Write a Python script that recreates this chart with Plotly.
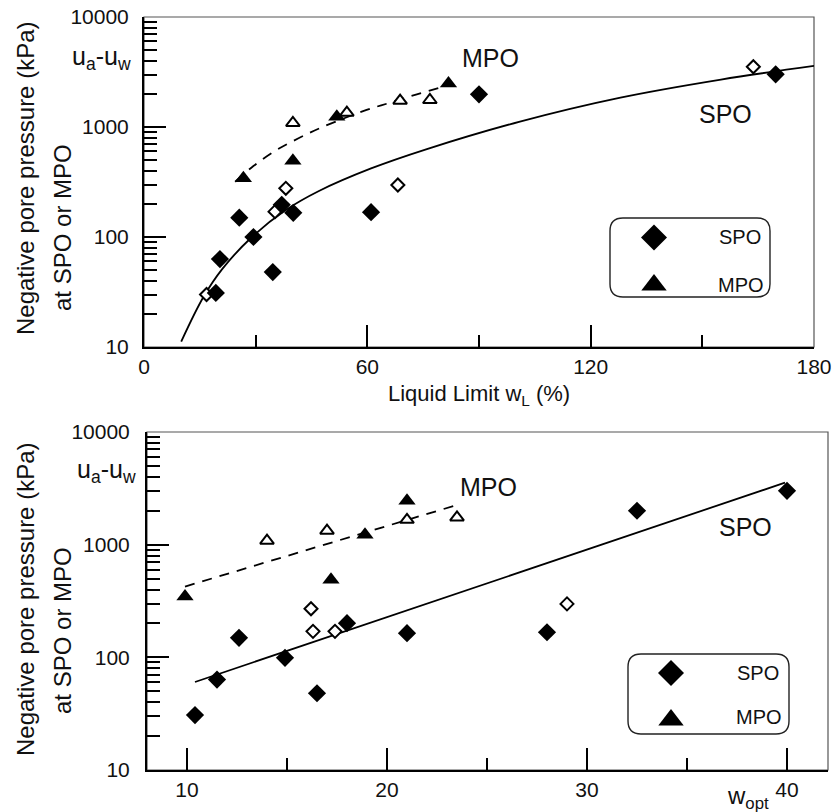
import plotly.graph_objects as go

# ---------------- data ----------------
# Top panel: liquid limit wL (%) vs negative pore pressure (kPa)
top_spo_filled_x = [19.3, 20.4, 25.6, 29.4, 34.6, 37.0, 40.1, 61.0, 90.0, 169.7]
top_spo_filled_y = [31, 63, 150, 100, 48, 196, 166, 168, 1980, 3010]
top_spo_open_x = [16.8, 35.2, 38.1, 68.2, 163.7]
top_spo_open_y = [30, 170, 277, 297, 3530]
top_mpo_filled_x = [26.7, 40.0, 51.8, 81.8]
top_mpo_filled_y = [342, 494, 1240, 2490]
top_mpo_open_x = [40.0, 54.5, 68.8, 76.8]
top_mpo_open_y = [1088, 1350, 1734, 1760]
top_spo_fit_x = [10, 16, 21, 29, 38, 47, 61, 76, 101, 128, 155, 180]
top_spo_fit_y = [11.2, 28.6, 51, 100, 175, 262, 420, 630, 1120, 1850, 2700, 3590]
top_mpo_fit_x = [24.5, 29.4, 35.6, 41.5, 47.5, 59.8, 66.1, 73.3, 80.4]
top_mpo_fit_y = [318, 442, 617, 789, 985, 1429, 1663, 1983, 2330]

# Bottom panel: optimum water content wopt vs negative pore pressure (kPa)
bot_spo_filled_x = [10.4, 11.5, 12.6, 14.9, 16.5, 18.0, 21.0, 28.0, 32.5, 40.0]
bot_spo_filled_y = [30.7, 63.5, 149, 99, 48, 201, 164, 167, 2000, 3006]
bot_spo_open_x = [16.2, 16.3, 17.4, 29.0]
bot_spo_open_y = [270, 170, 170, 298]
bot_mpo_filled_x = [9.9, 17.2, 18.9, 21.0]
bot_mpo_filled_y = [347, 487, 1225, 2449]
bot_mpo_open_x = [14.0, 17.0, 21.0, 23.5]
bot_mpo_open_y = [1085, 1330, 1663, 1745]
bot_spo_fit_x = [10.4, 39.9]
bot_spo_fit_y = [60.4, 3550]
bot_mpo_fit_x = [9.9, 23.5]
bot_mpo_fit_y = [425, 2250]

top_xticks = [0, 60, 120, 180]
bot_xticks = [10, 20, 30, 40]
y_ticks = [10, 100, 1000, 10000]
y_ticktext = ["10", "100", "1000", "10000"]
legend_labels = ["SPO", "MPO"]

# ---------------- layout helpers ----------------
W, H = 834, 812
FONT = "Liberation Sans, Arial, Helvetica, sans-serif"


def px(x):
    return x / W


def py(y):
    return 1 - y / H


fig = go.Figure()


def add_panel(xa, ya, spo_fx, spo_fy, spo_ox, spo_oy, mpo_fx, mpo_fy, mpo_ox, mpo_oy,
              sfx, sfy, mfx, mfy, spline):
    shape = "spline" if spline else "linear"
    fig.add_trace(go.Scatter(x=sfx, y=sfy, mode="lines", xaxis=xa, yaxis=ya,
                             line=dict(color="black", width=1.8, shape=shape),
                             showlegend=False, hoverinfo="skip"))
    fig.add_trace(go.Scatter(x=mfx, y=mfy, mode="lines", xaxis=xa, yaxis=ya,
                             line=dict(color="black", width=1.8, dash="10px,8px", shape=shape),
                             showlegend=False, hoverinfo="skip"))
    fig.add_trace(go.Scatter(x=spo_ox, y=spo_oy, mode="markers", xaxis=xa, yaxis=ya,
                             marker=dict(symbol="diamond", size=10, color="white",
                                         line=dict(color="black", width=2)),
                             showlegend=False))
    fig.add_trace(go.Scatter(x=mpo_ox, y=mpo_oy, mode="markers", xaxis=xa, yaxis=ya,
                             marker=dict(symbol="triangle-up", size=12, color="white",
                                         line=dict(color="black", width=2)),
                             showlegend=False))
    fig.add_trace(go.Scatter(x=spo_fx, y=spo_fy, mode="markers", xaxis=xa, yaxis=ya,
                             marker=dict(symbol="diamond", size=14, color="black",
                                         line=dict(width=0)),
                             showlegend=False))
    fig.add_trace(go.Scatter(x=mpo_fx, y=mpo_fy, mode="markers", xaxis=xa, yaxis=ya,
                             marker=dict(symbol="triangle-up", size=15, color="black",
                                         line=dict(width=0)),
                             showlegend=False))


add_panel("x", "y", top_spo_filled_x, top_spo_filled_y, top_spo_open_x, top_spo_open_y,
          top_mpo_filled_x, top_mpo_filled_y, top_mpo_open_x, top_mpo_open_y,
          top_spo_fit_x, top_spo_fit_y, top_mpo_fit_x, top_mpo_fit_y, True)
add_panel("x2", "y2", bot_spo_filled_x, bot_spo_filled_y, bot_spo_open_x, bot_spo_open_y,
          bot_mpo_filled_x, bot_mpo_filled_y, bot_mpo_open_x, bot_mpo_open_y,
          bot_spo_fit_x, bot_spo_fit_y, bot_mpo_fit_x, bot_mpo_fit_y, False)

# legend key symbols on a full-figure pixel overlay axis
leg_items = [
    ((654, 237.5), (654, 285)),
    ((671, 673), (671, 720)),
]
for (dx, dy), (tx, ty) in leg_items:
    fig.add_trace(go.Scatter(x=[dx], y=[dy], mode="markers", xaxis="x3", yaxis="y3",
                             marker=dict(symbol="diamond", size=20, color="black"),
                             showlegend=False, hoverinfo="skip"))
    fig.add_trace(go.Scatter(x=[tx], y=[ty], mode="markers", xaxis="x3", yaxis="y3",
                             marker=dict(symbol="triangle-up", size=22, color="black"),
                             showlegend=False, hoverinfo="skip"))


def axis_common():
    return dict(ticks="inside", ticklen=22, tickwidth=1.6, tickcolor="black",
                showline=True, linecolor="black", linewidth=2, mirror=False,
                showgrid=False, zeroline=False, automargin=False,
                tickfont=dict(family=FONT, size=21, color="#111"))


fig.update_layout(
    width=W, height=H,
    margin=dict(l=0, r=0, t=0, b=0, pad=0, autoexpand=False),
    paper_bgcolor="white", plot_bgcolor="rgba(0,0,0,0)",
    showlegend=False,
    font=dict(family=FONT, color="#111"),
    xaxis=dict(domain=[px(144), px(814)], range=[0, 180], anchor="y",
               tickmode="array", tickvals=top_xticks,
               minor=dict(dtick=30, tick0=0, ticks="inside", ticklen=12, tickwidth=1.6,
                          tickcolor="black", showgrid=False),
               **axis_common()),
    yaxis=dict(domain=[py(347), py(17)], type="log", range=[1, 4], anchor="x",
               tickmode="array", tickvals=y_ticks, ticktext=y_ticktext,
               ticklabelstandoff=9,
               minor=dict(dtick="D1", ticks="inside", ticklen=13, tickwidth=1.6,
                          tickcolor="black", showgrid=False),
               **axis_common()),
    xaxis2=dict(domain=[px(147), px(828)], range=[8, 42.05], anchor="y2",
                tickmode="array", tickvals=bot_xticks,
                minor=dict(dtick=5, tick0=0, ticks="inside", ticklen=12, tickwidth=1.6,
                           tickcolor="black", showgrid=False),
                **axis_common()),
    yaxis2=dict(domain=[py(770), py(432)], type="log", range=[1, 4], anchor="x2",
                tickmode="array", tickvals=y_ticks, ticktext=y_ticktext,
                ticklabelstandoff=11,
                minor=dict(dtick="D1", ticks="inside", ticklen=13, tickwidth=1.6,
                           tickcolor="black", showgrid=False),
                **axis_common()),
    xaxis3=dict(domain=[0, 1], range=[0, W], visible=False, anchor="y3", fixedrange=True),
    yaxis3=dict(domain=[0, 1], range=[H, 0], visible=False, anchor="x3", fixedrange=True),
)

# thin frame (top/right) of each panel
for xr, yr in (("x domain", "y domain"), ("x2 domain", "y2 domain")):
    fig.add_shape(type="rect", xref=xr, yref=yr, x0=0, y0=0, x1=1, y1=1,
                  line=dict(color="#555", width=1.2), layer="below")


def rounded_rect(x0, y0, x1, y1, r):
    pts = [
        ("M", (x0 + r, y0)), ("L", (x1 - r, y0)), ("Q", (x1, y0), (x1, y0 + r)),
        ("L", (x1, y1 - r)), ("Q", (x1, y1), (x1 - r, y1)), ("L", (x0 + r, y1)),
        ("Q", (x0, y1), (x0, y1 - r)), ("L", (x0, y0 + r)), ("Q", (x0, y0), (x0 + r, y0)),
    ]
    s = ""
    for p in pts:
        coords = " ".join(f"{px(a):.5f},{py(b):.5f}" for a, b in p[1:])
        s += f"{p[0]} {coords} "
    return s + "Z"


for box in ((610, 218, 770, 297), (628, 654, 789, 734)):
    fig.add_shape(type="path", xref="paper", yref="paper",
                  path=rounded_rect(*box, 13), line=dict(color="#222", width=1.4))


def ann(text, x, y, size, xanchor="center", yanchor="middle", angle=0):
    fig.add_annotation(text=text, x=px(x), y=py(y), xref="paper", yref="paper",
                       xanchor=xanchor, yanchor=yanchor, showarrow=False, textangle=angle,
                       font=dict(family=FONT, size=size, color="#111"))


ann(legend_labels[0], 763, 237, 20, xanchor="right")
ann(legend_labels[1], 766, 285, 20, xanchor="right")
ann(legend_labels[0], 781, 673, 20, xanchor="right")
ann(legend_labels[1], 784, 717, 20, xanchor="right")

ann("MPO", 490, 58, 25)
ann("SPO", 725, 114, 25)
ann("MPO", 488, 487, 25)
ann("SPO", 745, 527, 25)

ann("u<sub>a</sub>-u<sub>w</sub>", 133, 58, 25, xanchor="right")
ann("u<sub>a</sub>-u<sub>w</sub>", 138, 471, 25, xanchor="right")
ann("Negative pore pressure (kPa)", 25, 179, 24, angle=-90)
ann("at SPO or MPO", 62, 228, 24, angle=-90)
ann("Negative pore pressure (kPa)", 25, 600, 24, angle=-90)
ann("at SPO or MPO", 62, 631, 24, angle=-90)
ann("Liquid Limit w<sub>L</sub> (%)", 479, 395, 22)
ann("w<sub>opt</sub>", 771, 797, 24, xanchor="right")

fig.write_html(
    "out.html",
    config={"displayModeBar": False},
    post_script="document.body.style.margin='0px';document.body.style.overflow='hidden';",
)
